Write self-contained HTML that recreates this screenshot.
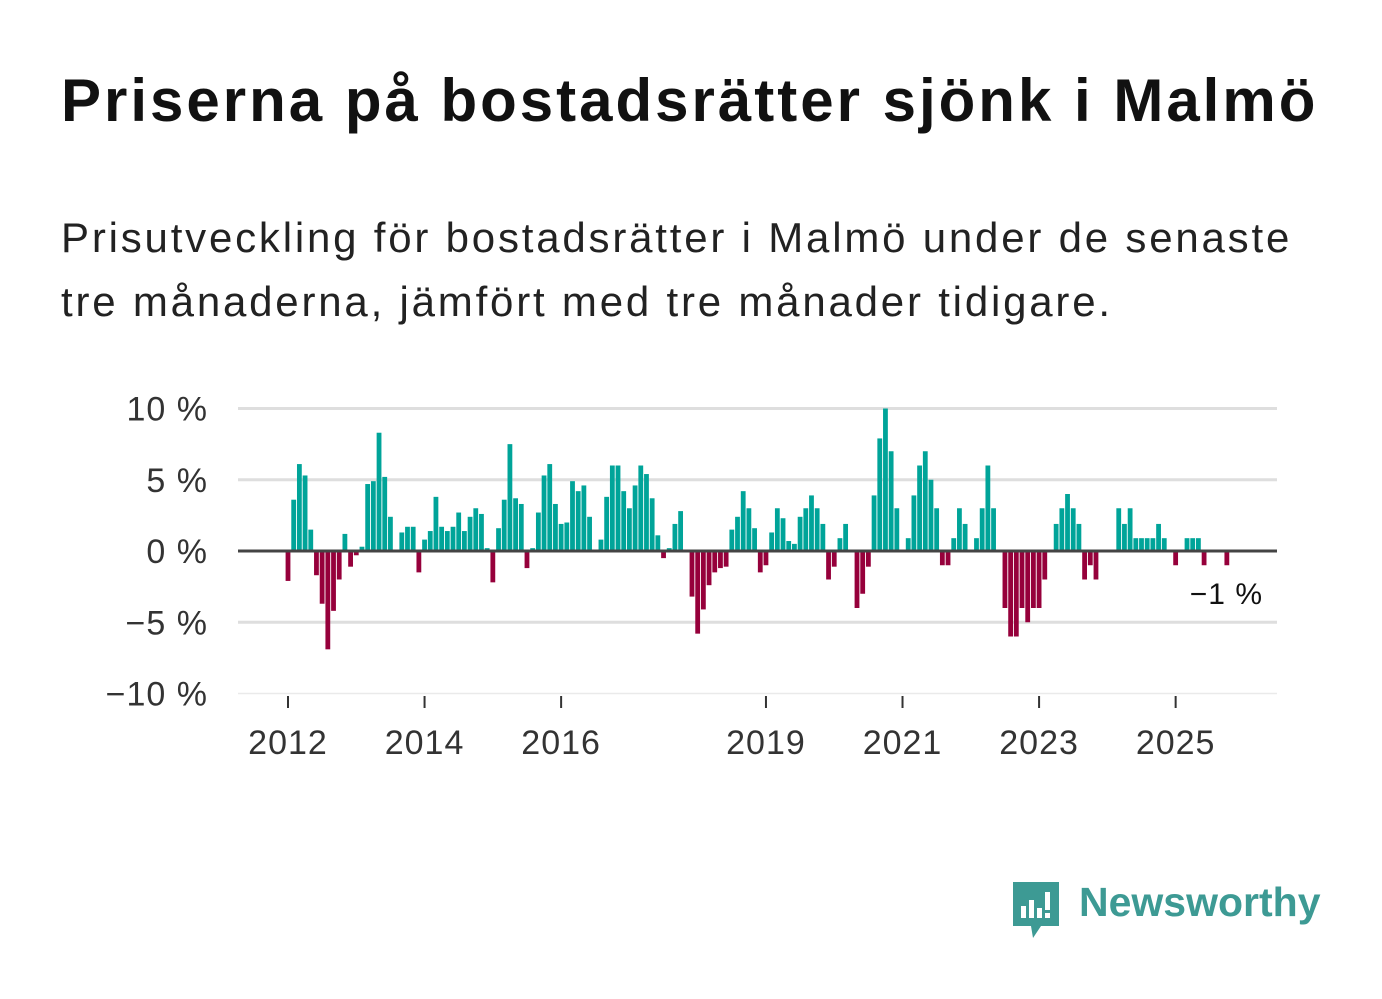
<!DOCTYPE html>
<html><head><meta charset="utf-8"><style>
body{margin:0;background:#fff;font-family:"Liberation Sans",sans-serif;}
#wrap{position:relative;width:1382px;height:999px;overflow:hidden;}
h1{position:absolute;left:61px;top:66px;margin:0;font-size:60px;font-weight:bold;color:#111;letter-spacing:3.0px;white-space:nowrap;}
.sub{position:absolute;left:61px;top:206px;margin:0;font-size:42px;line-height:64px;color:#222;width:1320px;letter-spacing:2.8px;white-space:nowrap;}
</style></head><body>
<div id="wrap">
<h1>Priserna på bostadsrätter sjönk i Malmö</h1>
<p class="sub">Prisutveckling för bostadsrätter i Malmö under de senaste<br>tre månaderna, jämfört med tre månader tidigare.</p>
<svg id="chart" width="1382" height="999" style="position:absolute;left:0;top:0"></svg>
<div style="position:absolute;left:1011px;top:878px;height:62px;">
<svg width="52" height="62" style="position:absolute;left:0;top:2px"><path d="M2 2h46v44H30l-8 12-2-12H2z" fill="#3d9a94"/><rect x="10" y="26" width="5" height="12" fill="#fff"/><rect x="18" y="20" width="5" height="18" fill="#fff"/><rect x="26" y="28" width="5" height="10" fill="#fff"/><rect x="34" y="12" width="5" height="18" fill="#fff"/><rect x="34" y="33" width="5" height="5" fill="#fff"/></svg>
<span style="position:absolute;left:68px;top:1px;font-size:41px;font-weight:bold;color:#3d9a94;white-space:nowrap;">Newsworthy</span>
</div>
</div>
<script>
const values=[-2.1,3.6,6.1,5.3,1.5,-1.7,-3.7,-6.9,-4.2,-2,1.2,-1.1,-0.3,0.3,4.7,4.9,8.3,5.2,2.4,0,1.3,1.7,1.7,-1.5,0.8,1.4,3.8,1.7,1.4,1.7,2.7,1.4,2.4,3.0,2.6,0.2,-2.2,1.6,3.6,7.5,3.7,3.3,-1.2,
0.2,2.7,5.3,6.1,3.3,1.9,2.0,4.9,4.2,4.6,2.4,0,0.8,3.8,6.0,6.0,4.2,3.0,4.6,6.0,5.4,3.7,1.1,-0.5,0.2,1.9,2.8,0,-3.2,-5.8,-4.1,-2.4,-1.5,-1.2,-1.1,1.5,2.4,4.2,3.0,1.6,-1.5,-1.0,
1.3,3.0,2.3,0.7,0.5,2.4,3.0,3.9,3.0,1.9,-2.0,-1.1,0.9,1.9,0,-4,-3,-1.1,3.9,7.9,10,7,3,0,0.9,3.9,6,7,5,3,-1,-1,0.9,3,1.9,0,0.9,3,6,3,0,-4,
-6,-6,-4,-5,-4,-4,-2,0,1.9,3,4,3,1.9,-2,-1,-2,0,0,0,3,1.9,3,0.9,0.9,0.9,0.9,1.9,0.9,0,-1,0,0.9,0.9,0.9,-1,0,0,0,-1];
const startYear=2012;
const yTicks=[10,5,0,-5,-10];
const yTickLabels=["10 %","5 %","0 %","−5 %","−10 %"];
const xTickYears=[2012,2014,2016,2019,2021,2023,2025];
const lastLabel="−1 %";

const NS="http://www.w3.org/2000/svg";
const svg=document.getElementById('chart');
const x0=288, pxPerMonth=5.69, left=238, right=1277;
const xs=m=>x0+m*pxPerMonth;
const ys=v=>551-v*14.25;
function mk(tag,attrs,parent){const e=document.createElementNS(NS,tag);for(const k in attrs)e.setAttribute(k,attrs[k]);(parent||svg).appendChild(e);return e;}
yTicks.forEach((t,i)=>{
 if(t!==0){const g=mk('line',{x1:left,x2:right,y1:ys(t),y2:ys(t),stroke:t===-10?'#eaeaea':'#dedede','stroke-width':t===-10?1.5:3});
 
 }
 const l=mk('text',{x:208,y:ys(t)+12,'text-anchor':'end','font-size':34,fill:'#333','letter-spacing':1,'font-family':'Liberation Sans, sans-serif'});
 l.textContent=yTickLabels[i];
 
 
});
values.forEach((v,i)=>{
 if(v===0)return;
 const x=xs(i)-2.4, y1=ys(Math.max(v,0)), y2=ys(Math.min(v,0));
 const r=mk('rect',{x:x,y:y1,width:4.8,height:y2-y1,fill:v>0?'#00a499':'#96003b'});
 
 
});
const zl=mk('line',{x1:left,x2:right,y1:ys(0),y2:ys(0),stroke:'#444','stroke-width':3});


xTickYears.forEach(yr=>{
 const x=xs((yr-startYear)*12);
 const t=mk('line',{x1:x,x2:x,y1:696,y2:708,stroke:'#333','stroke-width':2});
 
 
 const l=mk('text',{x:x,y:754,'text-anchor':'middle','font-size':34,fill:'#333','letter-spacing':1,'font-family':'Liberation Sans, sans-serif'});
 l.textContent=yr;
 
 
});
const ll=mk('text',{x:1263,y:604,'text-anchor':'end','font-size':30,fill:'#111','letter-spacing':1,'font-family':'Liberation Sans, sans-serif'});
ll.textContent=lastLabel;


</script>
</body></html>
